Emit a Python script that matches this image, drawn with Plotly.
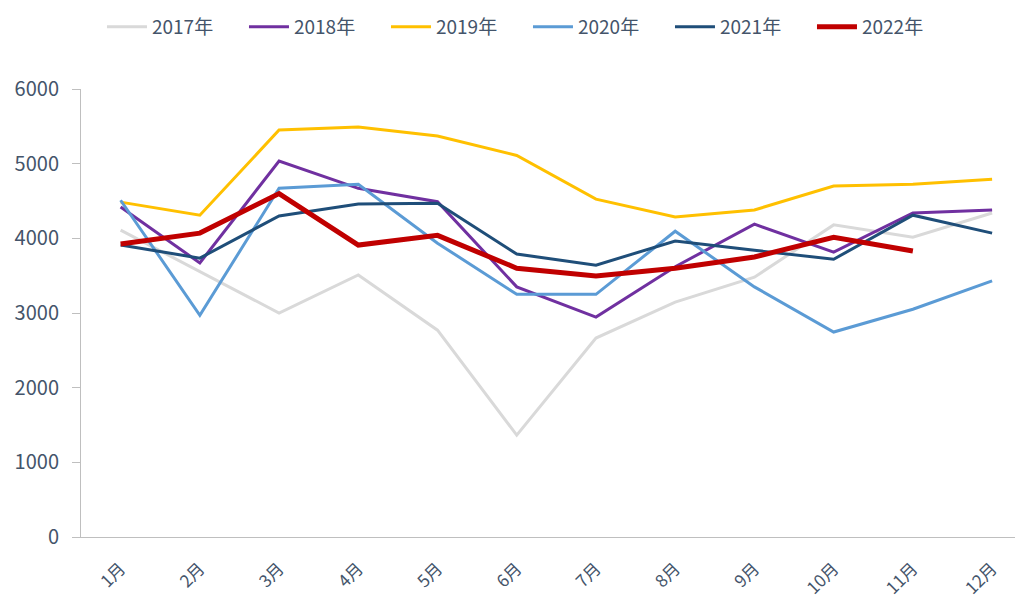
import plotly.graph_objects as go

months = ["1月", "2月", "3月", "4月", "5月", "6月", "7月", "8月", "9月", "10月", "11月", "12月"]

y2017 = [4110, 3550, 3000, 3510, 2770, 1365, 2665, 3145, 3480, 4180, 4015, 4340]
y2018 = [4420, 3670, 5035, 4670, 4490, 3350, 2945, 3620, 4190, 3815, 4340, 4380]
y2019 = [4485, 4310, 5450, 5490, 5370, 5110, 4525, 4285, 4380, 4700, 4725, 4790]
y2020 = [4510, 2970, 4670, 4725, 3935, 3250, 3250, 4095, 3350, 2745, 3050, 3430]
y2021 = [3910, 3735, 4300, 4460, 4470, 3790, 3640, 3965, 3840, 3720, 4310, 4070]
y2022 = [3925, 4070, 4600, 3910, 4040, 3600, 3495, 3600, 3750, 4015, 3830]

series = [
    ("2017年", y2017, "#D9D9D9", 3),
    ("2018年", y2018, "#7030A0", 3),
    ("2019年", y2019, "#FFC000", 3),
    ("2020年", y2020, "#5B9BD5", 3),
    ("2021年", y2021, "#1F4E79", 3),
    ("2022年", y2022, "#C00000", 5),
]

fig = go.Figure()
for name, vals, color, w in series:
    fig.add_trace(go.Scatter(
        x=months[:len(vals)], y=vals, name=name, mode="lines",
        line=dict(color=color, width=w),
    ))

font_family = "Noto Sans CJK SC, Noto Sans, sans-serif"
tick_color = "#44546A"

# page body has an 8px default margin; size the figure to fill the rest of the window
fig.update_layout(
    width=1015, height=601,
    margin=dict(l=73, r=0, t=81, b=72, autoexpand=False),
    paper_bgcolor="white", plot_bgcolor="white",
    font=dict(family=font_family, color=tick_color, size=16),
    showlegend=True,
    legend=dict(
        orientation="h", x=0.4745, xanchor="center",
        y=1.0, yref="container", yanchor="top",
        font=dict(size=19, color=tick_color),
        itemwidth=40, entrywidth=87, entrywidthmode="pixels",
    ),
    xaxis=dict(
        type="category", range=[-0.5, 11.39],
        showgrid=False, zeroline=False,
        showline=True, linecolor="#BFBFBF", linewidth=1,
        ticks="", tickangle=-45, automargin=False,
        ticklabelstandoff=14,
        tickfont=dict(size=17, color=tick_color),
    ),
    yaxis=dict(
        range=[0, 6000], tickvals=[0, 1000, 2000, 3000, 4000, 5000, 6000],
        showgrid=False, zeroline=False, automargin=False,
        showline=True, linecolor="#BFBFBF", linewidth=1,
        ticks="outside", ticklen=8, tickcolor="#BFBFBF",
        ticklabelstandoff=9,
        tickfont=dict(size=20, color=tick_color),
    ),
)

fig.write_html("out.html")
